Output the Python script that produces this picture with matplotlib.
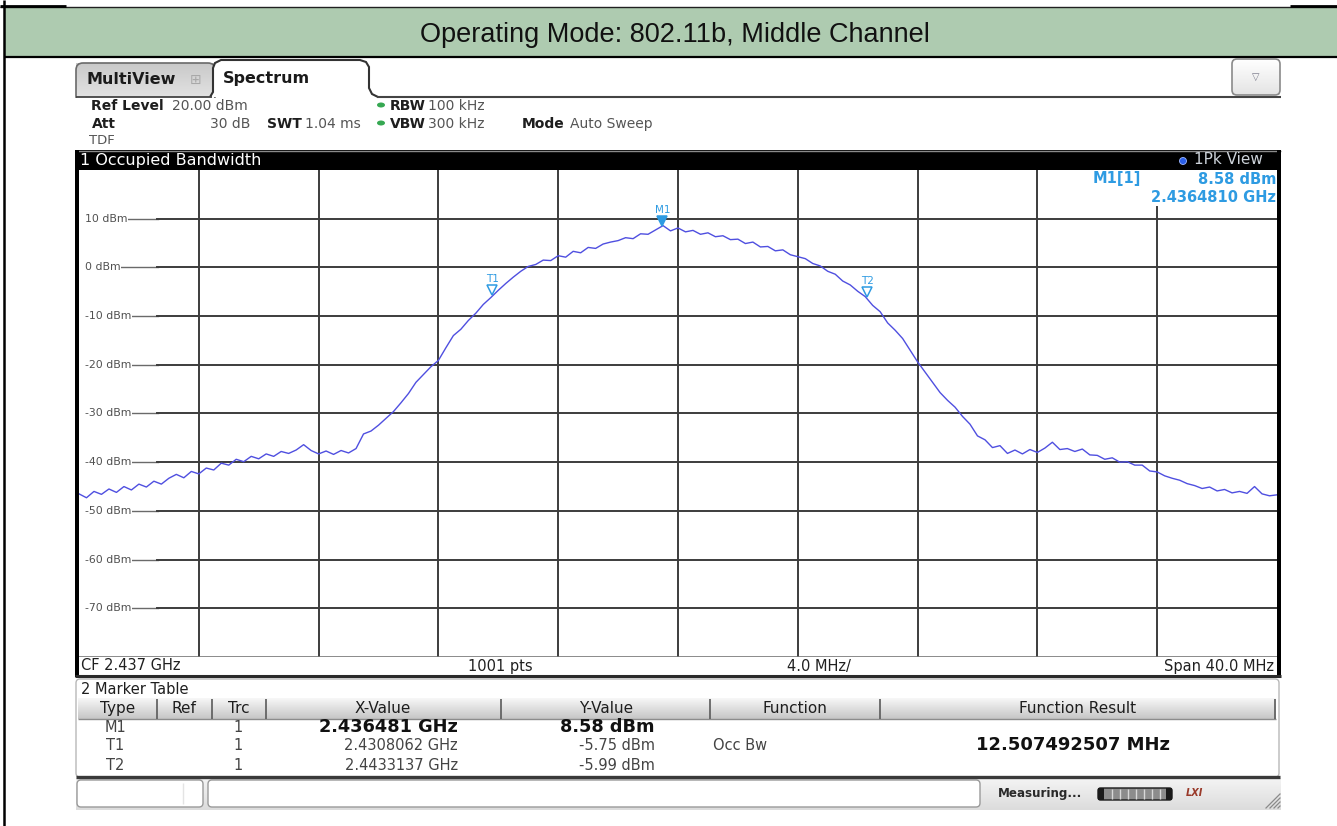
import numpy as np
import matplotlib
matplotlib.use("Agg")
import matplotlib.pyplot as plt
import matplotlib.colors as mcolors
import matplotlib.transforms as mtransforms
from matplotlib.patches import Rectangle, FancyBboxPatch, Polygon, Ellipse

W, H = 1337, 826
DPI = 100

# ---------------- data ----------------
title_text = "Operating Mode: 802.11b, Middle Channel"
center_freq_ghz = 2.437
span_mhz = 40.0
n_sweep_pts = 1001
ref_level_dbm = 20.0
bottom_level_dbm = -80.0
y_grid_dbm = [10, 0, -10, -20, -30, -40, -50, -60, -70]

# trace level (dBm) read every 0.25 MHz from 2.417 GHz to 2.457 GHz
trace_dbm = [
    -46.5, -47.3, -46.0, -46.6, -45.5, -46.2, -45.0, -45.7,
    -44.5, -45.1, -43.9, -44.5, -43.3, -42.5, -43.2, -41.9,
    -42.4, -41.2, -41.6, -40.2, -40.6, -39.4, -39.9, -38.8,
    -39.3, -38.3, -38.8, -37.8, -38.2, -37.5, -36.4, -37.6,
    -38.3, -37.7, -38.4, -37.6, -38.1, -37.2, -34.2, -33.6,
    -32.4, -31.0, -29.6, -27.8, -25.9, -23.6, -22.0, -20.4,
    -19.1, -16.5, -14.0, -12.7, -10.9, -9.4, -7.6, -6.2,
    -4.7, -3.3, -2.0, -0.8, 0.2, 0.6, 1.5, 1.4,
    2.4, 2.1, 3.3, 3.0, 4.1, 3.9, 4.8, 5.2,
    5.5, 6.1, 5.9, 6.9, 6.8, 7.7, 8.58, 7.5,
    8.1, 7.3, 7.6, 6.8, 7.1, 6.3, 6.5, 5.7,
    5.8, 4.9, 5.2, 4.2, 4.3, 3.4, 3.6, 2.6,
    2.2, 1.8, 0.8, 0.3, -0.8, -1.4, -2.8, -3.6,
    -4.9, -5.99, -7.8, -9.1, -11.4, -12.9, -14.6, -17.0,
    -19.4, -21.5, -23.6, -25.7, -27.3, -28.7, -30.6, -32.2,
    -34.6, -35.4, -37.0, -36.6, -38.2, -37.5, -38.3, -37.4,
    -38.0, -37.1, -35.9, -37.4, -37.2, -37.8, -37.3, -38.5,
    -38.6, -39.4, -39.1, -40.0, -39.9, -40.6, -40.6, -41.8,
    -42.0, -42.8, -43.3, -43.7, -44.4, -44.8, -45.4, -45.1,
    -45.9, -45.6, -46.3, -46.0, -46.4, -45.0, -46.5, -46.9,
    -46.7,
]

marker_names = ["M1", "T1", "T2"]
marker_freq_ghz = [2.436481, 2.4308062, 2.4433137]
marker_level_dbm = [8.58, -5.75, -5.99]
marker_x_text = ["2.436481 GHz", "2.4308062 GHz", "2.4433137 GHz"]
marker_y_text = ["8.58 dBm", "-5.75 dBm", "-5.99 dBm"]
marker_trace = ["1", "1", "1"]
table_headers = ["Type", "Ref", "Trc", "X-Value", "Y-Value", "Function", "Function Result"]
occ_bw_text = "12.507492507 MHz"

# ---------------- colours / fonts ----------------
TRACE = "#4f4fe0"
MK = "#2e9be2"
GRID = "#3c3c3c"
GREEN_BAND = "#aecbb0"
UI = "DejaVu Sans"

fig = plt.figure(figsize=(W / DPI, H / DPI), dpi=DPI)
fig.patch.set_facecolor("white")

bg = fig.add_axes([0, 0, 1, 1], zorder=0)
fg = fig.add_axes([0, 0, 1, 1], zorder=3)
for a in (bg, fg):
    a.set_xlim(0, W)
    a.set_ylim(H, 0)
    a.axis("off")
fg.patch.set_alpha(0)


def rect(a, x0, y0, x1, y1, **kw):
    a.add_patch(Rectangle((x0, y0), x1 - x0, y1 - y0, **kw))


def rbox(a, x0, y0, x1, y1, r=4, **kw):
    a.add_patch(FancyBboxPatch((x0, y0), x1 - x0, y1 - y0,
                               boxstyle=f"round,pad=0,rounding_size={r}", **kw))


def grad(a, x0, y0, x1, y1, ctop, cbot, z=1):
    t = np.linspace(0, 1, 40)[:, None]
    c0 = np.array(mcolors.to_rgb(ctop))
    c1 = np.array(mcolors.to_rgb(cbot))
    img = (c0 * (1 - t) + c1 * t)[:, None, :]
    a.imshow(img, extent=(x0, x1, y1, y0), aspect="auto", zorder=z,
             interpolation="bilinear")


def hline(a, x0, x1, y, **kw):
    a.plot([x0, x1], [y, y], solid_capstyle="butt", **kw)


def vline(a, x, y0, y1, **kw):
    a.plot([x, x], [y0, y1], solid_capstyle="butt", **kw)


def txt(a, x, y, s, **kw):
    kw.setdefault("family", UI)
    kw.setdefault("va", "center")
    a.text(x, y, s, **kw)


# ---------------- document frame / title band ----------------
rect(bg, 5, 8, W, 56, facecolor=GREEN_BAND, edgecolor="none", zorder=1)
hline(bg, 0, W, 7, color="#202020", lw=1.0, zorder=2)
hline(bg, 0, 66, 6, color="black", lw=2.0, zorder=2)
hline(bg, 1290, W, 6, color="black", lw=2.0, zorder=2)
hline(bg, 4, W, 56.5, color="black", lw=1.6, zorder=2)
vline(bg, 4, 0, H, color="black", lw=1.8, zorder=2)
bg.text(675, 42, title_text, family="Liberation Sans", fontsize=19.5,
        ha="center", va="baseline", color="#111111", zorder=3)

# ---------------- tabs ----------------
grad(bg, 76, 63, 215, 97, "#c9c9c9", "#e2e2e2", z=1)
bg.add_patch(FancyBboxPatch((76, 63), 139, 40, boxstyle="round,pad=0,rounding_size=7",
                            facecolor="none", edgecolor="#6a6a6a", lw=1.2, zorder=2))
rect(bg, 70, 97.6, 220, 106, facecolor="white", edgecolor="none", zorder=2)
txt(bg, 86, 80, "MultiView", fontsize=11.5, fontweight="bold", color="#1a1a1a", zorder=3)
txt(bg, 196, 80, "\u229e", fontsize=10, color="#a8a8a8", ha="center", zorder=3)
spec_tab = Polygon([(210, 97), (213, 92), (213, 68), (215, 63), (221, 60), (360, 60),
                    (366, 62), (369, 67), (369, 88), (372, 94), (378, 97)],
                   closed=False, facecolor="white", edgecolor="#333333", lw=1.5, zorder=3)
bg.add_patch(spec_tab)
txt(bg, 223, 79, "Spectrum", fontsize=11.5, fontweight="bold", color="#1a1a1a", zorder=4)
hline(bg, 76, 212, 97, color="#444444", lw=1.3, zorder=3)
hline(bg, 377, 1281, 97, color="#444444", lw=1.5, zorder=3)
# dropdown button
grad(bg, 1232, 59, 1280, 95, "#ffffff", "#e4e4e4", z=2)
rbox(bg, 1232, 59, 1280, 95, r=5, facecolor="none", edgecolor="#8a8a8a", lw=1.2, zorder=3)
txt(bg, 1256, 77, "\u25bd", fontsize=7, color="#7a7a8a", ha="center", zorder=4)

# ---------------- info lines ----------------
dark = "#1e1e1e"
grey = "#555555"
txt(bg, 91, 106, "Ref Level", fontsize=10, fontweight="bold", color=dark)
txt(bg, 172, 106, "20.00 dBm", fontsize=10, color=grey)
txt(bg, 92, 124, "Att", fontsize=10, fontweight="bold", color=dark)
txt(bg, 250, 124, "30 dB", fontsize=10, color=grey, ha="right")
txt(bg, 267, 124, "SWT", fontsize=10, fontweight="bold", color=dark)
txt(bg, 305, 124, "1.04 ms", fontsize=10, color=grey)
for yy in (105, 123):
    bg.add_patch(Ellipse((381, yy), 8, 5, facecolor="#36a852", edgecolor="none", zorder=3))
txt(bg, 390, 106, "RBW", fontsize=10, fontweight="bold", color=dark)
txt(bg, 428, 106, "100 kHz", fontsize=10, color=grey)
txt(bg, 390, 124, "VBW", fontsize=10, fontweight="bold", color=dark)
txt(bg, 428, 124, "300 kHz", fontsize=10, color=grey)
txt(bg, 522, 124, "Mode", fontsize=10, fontweight="bold", color=dark)
txt(bg, 570, 124, "Auto Sweep", fontsize=10, color=grey)
txt(bg, 89, 141, "TDF", fontsize=9.5, color=grey)

# ---------------- diagram title bar ----------------
rect(bg, 75, 150, 1281, 170, facecolor="black", edgecolor="none", zorder=1)
hline(bg, 75, 1281, 150.5, color="#8a8a8a", lw=1.0, zorder=2)
txt(bg, 80, 160, "1 Occupied Bandwidth", fontsize=11.5, color="white", zorder=3)
bg.add_patch(Ellipse((1183, 161), 7, 7, facecolor="#2b5fe8", edgecolor="#9fb8ff", lw=0.6, zorder=3))
txt(bg, 1263, 160, "1Pk View", fontsize=11, color="#cdd3da", ha="right", zorder=3)

# plot borders
rect(bg, 75, 150, 79, 677, facecolor="black", edgecolor="none", zorder=2)
rect(bg, 1277, 150, 1281, 677, facecolor="black", edgecolor="none", zorder=2)

# ---------------- spectrum axes ----------------
f_start = center_freq_ghz - span_mhz / 2000.0
f_stop = center_freq_ghz + span_mhz / 2000.0
px_l, px_r, px_t, px_b = 79, 1277, 170, 657
ax = fig.add_axes([px_l / W, (H - px_b) / H, (px_r - px_l) / W, (px_b - px_t) / H], zorder=1)
ax.set_facecolor("white")
ax.set_xlim(f_start, f_stop)
ax.set_ylim(bottom_level_dbm, ref_level_dbm)
for s in ax.spines.values():
    s.set_visible(False)
ax.set_xticks([])
ax.set_yticks([])

div_ghz = span_mhz / 10 / 1000.0
for k in range(1, 10):
    top = 0.924 if k == 9 else 1.0
    ax.axvline(f_start + k * div_ghz, ymin=0, ymax=top, color=GRID, lw=1.4, zorder=1)
blend = mtransforms.blended_transform_factory(ax.transAxes, ax.transData)
for v in y_grid_dbm:
    ax.axhline(v, xmin=0.012, xmax=0.066, color="#6a6a6a", lw=1.0, zorder=1)
    ax.axhline(v, xmin=0.065, xmax=1, color=GRID, lw=1.4, zorder=1)
    ax.text(0.005, v, f"{v} dBm", transform=blend, fontsize=7.8, family=UI,
            color="#505050", va="center", ha="left", zorder=2,
            bbox=dict(facecolor="white", edgecolor="none", pad=0.6))
ax.axhline(bottom_level_dbm, color="#777777", lw=1.2, zorder=1)

freqs = np.linspace(f_start, f_stop, len(trace_dbm))
ax.plot(freqs, trace_dbm, color=TRACE, lw=1.0, zorder=3)

tri_off = mtransforms.offset_copy(ax.transData, fig=fig, x=0, y=5, units="dots")
for name, f, lv in zip(marker_names, marker_freq_ghz, marker_level_dbm):
    filled = name.startswith("M")
    ax.plot([f], [lv], marker="v", ms=7, transform=tri_off, zorder=5,
            mfc=MK if filled else "white", mec=MK, mew=1.1, ls="none")
    ax.annotate(name, (f, lv), xytext=(0, 16), textcoords="offset pixels",
                ha="center", va="center", fontsize=7.5, family=UI, color=MK, zorder=5)

# marker readout
rect(fg, 1150, 171, 1276.5, 206, facecolor="white", edgecolor="none", zorder=1)
txt(fg, 1093, 179, "M1[1]", fontsize=10.5, fontweight="bold", color=MK, zorder=2)
txt(fg, 1276, 179, marker_y_text[0], fontsize=10.5, fontweight="bold", color=MK, ha="right", zorder=2)
txt(fg, 1276, 197, "2.4364810 GHz", fontsize=10.5, fontweight="bold", color=MK, ha="right", zorder=2)

# ---------------- x-axis info row ----------------
rect(bg, 79, 657, 1277, 675, facecolor="white", edgecolor="none", zorder=1)
txt(bg, 81, 666, f"CF {center_freq_ghz:.3f} GHz", fontsize=10.5, color="#202020", zorder=3)
txt(bg, 468, 666, f"{n_sweep_pts} pts", fontsize=10.5, color="#202020", zorder=3)
txt(bg, 787, 666, f"{span_mhz / 10:.1f} MHz/", fontsize=10.5, color="#202020", zorder=3)
txt(bg, 1274, 666, f"Span {span_mhz:.1f} MHz", fontsize=10.5, color="#202020", ha="right", zorder=3)
hline(bg, 75, 1281, 676, color="#2a2a2a", lw=2.2, zorder=3)

# ---------------- marker table ----------------
rbox(bg, 76, 679, 1279, 777, r=4, facecolor="white", edgecolor="#b8b8b8", lw=1.0, zorder=1)
txt(bg, 81, 690, "2 Marker Table", fontsize=10.5, color="#1e1e1e", zorder=3)
grad(bg, 78, 698, 1276, 719, "#f7f7f7", "#c6c6c6", z=2)
hline(bg, 78, 1276, 719, color="#8c8c8c", lw=1.0, zorder=3)
for sx in (157, 212, 266, 501, 710, 880, 1275):
    vline(bg, sx, 699, 719, color="#5a5a5a", lw=1.2, zorder=3)
hdr_x = [118, 184, 239, 383, 606, 795, 1078]
for hx, hs in zip(hdr_x, table_headers):
    txt(bg, hx, 708.5, hs, fontsize=11, color="#1e1e1e", ha="center", zorder=4)

row_y = [727, 746, 765]
for i in range(3):
    y = row_y[i]
    bold = i == 0
    txt(bg, 115, y, marker_names[i], fontsize=10.5, color="#444444", ha="center", zorder=3)
    txt(bg, 238, y, marker_trace[i], fontsize=10.5, color="#444444", ha="center", zorder=3)
    txt(bg, 458, y, marker_x_text[i], fontsize=12.8 if bold else 10.5,
        fontweight="bold" if bold else "normal",
        color="#111111" if bold else "#444444", ha="right", zorder=3)
    txt(bg, 655, y, marker_y_text[i], fontsize=12.8 if bold else 10.5,
        fontweight="bold" if bold else "normal",
        color="#111111" if bold else "#444444", ha="right", zorder=3)
txt(bg, 713, row_y[1], "Occ Bw", fontsize=10.5, color="#444444", zorder=3)
txt(bg, 976, row_y[1] - 1, occ_bw_text, fontsize=13, fontweight="bold", color="#111111", zorder=3)
hline(bg, 76, 1280, 777, color="#3a3a3a", lw=2.4, zorder=3)

# ---------------- status bar ----------------
grad(bg, 76, 778, 1281, 810, "#f4f4f4", "#dcdcdc", z=1)
rbox(bg, 77, 780, 203, 807, r=4, facecolor="white", edgecolor="#9a9a9a", lw=1.0, zorder=2)
vline(bg, 183, 783, 804, color="#e4e4e4", lw=1.0, zorder=3)
rbox(bg, 208, 780, 980, 807, r=4, facecolor="white", edgecolor="#9a9a9a", lw=1.0, zorder=2)
txt(bg, 998, 794, "Measuring...", fontsize=8.6, fontweight="bold", color="#2a2a2a", zorder=3)
rbox(bg, 1098, 788, 1172, 800, r=2.5, facecolor="#8c8c8c", edgecolor="#1a1a1a", lw=1.0, zorder=3)
rect(bg, 1098, 788, 1104, 800, facecolor="#1a1a1a", edgecolor="none", zorder=4)
rect(bg, 1166, 788, 1172, 800, facecolor="#1a1a1a", edgecolor="none", zorder=4)
for sx in np.arange(1112, 1166, 8):
    vline(bg, sx, 789, 799, color="#d8d8d8", lw=1.0, zorder=4)
txt(bg, 1194, 793, "LXI", fontsize=7, fontweight="bold", style="italic",
    color="#9a3a2a", ha="center", zorder=4)
for k in range(4):
    bg.plot([1266 + 4 * k, 1280], [808, 794 + 4 * k], color="#8a8a8a", lw=0.9, zorder=3)

fig.savefig("out.png", dpi=DPI)
